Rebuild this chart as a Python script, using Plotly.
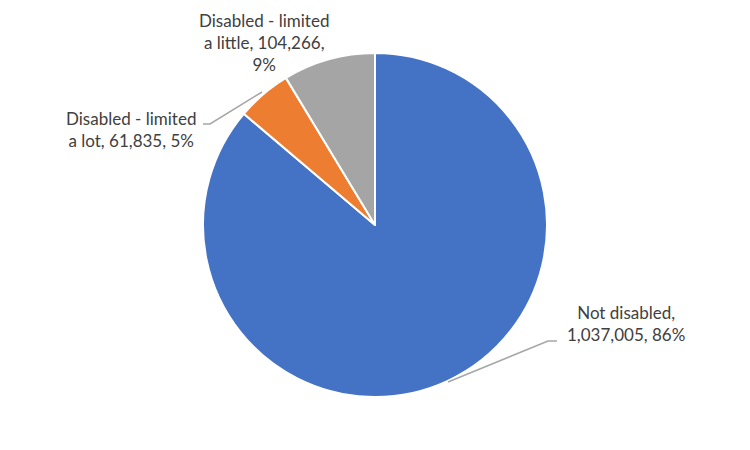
import plotly.graph_objects as go

# données
categories = ["Not disabled", "Disabled - limited a lot", "Disabled - limited a little"]
values = [1037005, 61835, 104266]
colors = ["#4472C4", "#ED7D31", "#A5A5A5"]

W, H = 750, 450
OFF = 8  # marge par défaut du <body> de la page
total = sum(values)
pcts = [round(v / total * 100) for v in values]

def px(x, y):
    return (x - OFF) / W, 1 - (y - OFF) / H

cx, cy, r = 375, 225, 172
x0, y1 = px(cx - r, cy - r)
x1, y0 = px(cx + r, cy + r)

fig = go.Figure(
    go.Pie(
        labels=categories,
        values=values,
        sort=False,
        direction="clockwise",
        rotation=0,
        marker=dict(colors=colors, line=dict(color="white", width=2)),
        textinfo="none",
        hoverinfo="label+value+percent",
        domain=dict(x=[x0, x1], y=[y0, y1]),
        showlegend=False,
    )
)

# libellés
label_text = [
    f"Not disabled,<br>{values[0]:,}, {pcts[0]}%",
    f"Disabled - limited<br>a lot, {values[1]:,}, {pcts[1]}%",
    f"Disabled - limited<br>a little, {values[2]:,},<br>{pcts[2]}%",
]
label_pos = [(626, 323), (131, 130), (264, 43)]
for txt, (x, y) in zip(label_text, label_pos):
    ax, ay = px(x, y)
    fig.add_annotation(
        x=ax, y=ay, xref="paper", yref="paper", text=txt, showarrow=False,
        xanchor="center", yanchor="middle", align="center",
        font=dict(family="Lato, Open Sans, sans-serif", size=17, color="#404040"),
    )

# lignes de rappel
leaders = [
    [(448, 382), (548, 341), (557, 341)],
    [(203, 124), (210, 124), (262, 92)],
]
for pts in leaders:
    path = ""
    for i, (x, y) in enumerate(pts):
        X, Y = px(x, y)
        path += ("M" if i == 0 else "L") + f" {X} {Y} "
    fig.add_shape(type="path", path=path, xref="paper", yref="paper",
                  line=dict(color="#A6A6A6", width=1.5))

fig.update_layout(
    width=W, height=H,
    margin=dict(l=0, r=0, t=0, b=0),
    paper_bgcolor="white",
    plot_bgcolor="white",
)

fig.write_html("out.html")
